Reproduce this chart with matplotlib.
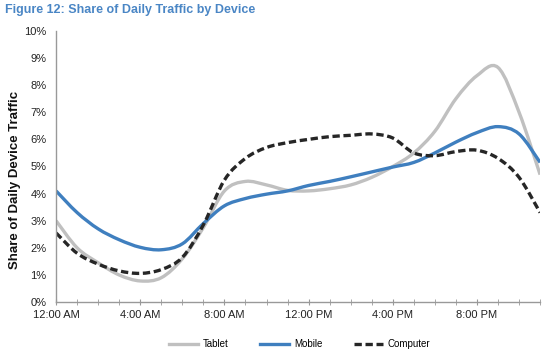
import matplotlib
matplotlib.use('Agg')
import matplotlib.pyplot as plt
import numpy as np
from matplotlib.path import Path
from matplotlib.patches import PathPatch
from matplotlib.lines import Line2D
from matplotlib.ticker import FuncFormatter, MultipleLocator

# hourly share of daily traffic (%), hour 0 = 12:00 AM
hours = list(range(24))
tablet = [3.0, 2.0, 1.45, 1.0, 0.78, 0.9, 1.6, 2.75, 4.1, 4.45, 4.32, 4.12,
          4.1, 4.18, 4.32, 4.6, 5.0, 5.5, 6.3, 7.5, 8.35, 8.65, 7.0, 4.7]
mobile = [4.1, 3.3, 2.7, 2.3, 2.02, 1.93, 2.15, 2.9, 3.55, 3.82, 3.98, 4.1,
          4.3, 4.45, 4.62, 4.8, 4.98, 5.15, 5.5, 5.9, 6.25, 6.47, 6.2, 5.15]
computer = [2.55, 1.8, 1.4, 1.15, 1.06, 1.2, 1.65, 2.85, 4.5, 5.3, 5.7, 5.88,
            6.0, 6.1, 6.15, 6.2, 6.05, 5.5, 5.4, 5.55, 5.6, 5.3, 4.6, 3.3]
tick_labels = ['12:00 AM', '4:00 AM', '8:00 AM', '12:00 PM', '4:00 PM', '8:00 PM']

plt.rcParams['font.family'] = ['Liberation Sans Narrow', 'Liberation Sans', 'DejaVu Sans']

blue = '#3f7fbf'
gray = '#c0c0c0'
dark = '#262626'


def smooth_path(x, y):
    # cubic bezier through the points (Excel style smoothed line)
    x = np.asarray(x, float)
    y = np.asarray(y, float)
    pts = np.column_stack([x, y])
    verts = [pts[0]]
    codes = [Path.MOVETO]
    n = len(pts)
    for i in range(n - 1):
        p0 = pts[i - 1] if i > 0 else pts[i]
        p1 = pts[i]
        p2 = pts[i + 1]
        p3 = pts[i + 2] if i + 2 < n else pts[i + 1]
        c1 = p1 + (p2 - p0) / 6.0
        c2 = p2 - (p3 - p1) / 6.0
        verts += [c1, c2, p2]
        codes += [Path.CURVE4] * 3
    return Path(verts, codes)


fig = plt.figure(figsize=(5.5, 3.55), dpi=100)
ax = fig.add_axes([0.102, 0.149, 0.88, 0.764])

series = [
    ('Tablet', tablet, dict(color=gray, linestyle='-')),
    ('Mobile', mobile, dict(color=blue, linestyle='-')),
    ('Computer', computer, dict(color=dark, linestyle=(0, (2.2, 1.1)))),
]
handles = []
for name, vals, st in series:
    patch = PathPatch(smooth_path(hours, vals), facecolor='none',
                      edgecolor=st['color'], linestyle=st['linestyle'],
                      linewidth=2.4, capstyle='butt')
    ax.add_patch(patch)
    handles.append(Line2D([], [], color=st['color'], linestyle=st['linestyle'],
                          linewidth=2.4, label=name))

ax.set_xlim(0, 23)
ax.set_ylim(0, 10)
ax.yaxis.set_major_locator(MultipleLocator(1))
ax.yaxis.set_major_formatter(FuncFormatter(lambda v, p: f'{int(v)}%'))
ax.set_xticks(range(0, 24, 4))
ax.set_xticklabels(tick_labels)
ax.set_xticks(range(0, 24), minor=True)

for s in ['top', 'right']:
    ax.spines[s].set_visible(False)
for s in ['left', 'bottom']:
    ax.spines[s].set_color('#999999')
    ax.spines[s].set_linewidth(1.0)

ax.tick_params(axis='y', length=0, labelsize=8, pad=7, colors='#222222')
ax.tick_params(axis='x', which='both', direction='inout', length=4,
               color='#999999', labelsize=8, pad=4, labelcolor='#222222')

ax.set_ylabel('Share of Daily Device Traffic', fontsize=9.5, fontweight='bold',
              color='#111111')
ax.yaxis.set_label_coords(-0.072, 0.45)

fig.text(0.009, 0.972, 'Figure 12: Share of Daily Traffic by Device',
         fontsize=9, fontweight='bold', color='#4a86c5', va='center', ha='left')

fig.legend(handles=handles, loc='center', bbox_to_anchor=(0.545, 0.03), ncol=3,
           frameon=False, fontsize=7, handlelength=3.0, columnspacing=3.2,
           handletextpad=0.5)

plt.savefig('out.png', dpi=100)
plt.close()
